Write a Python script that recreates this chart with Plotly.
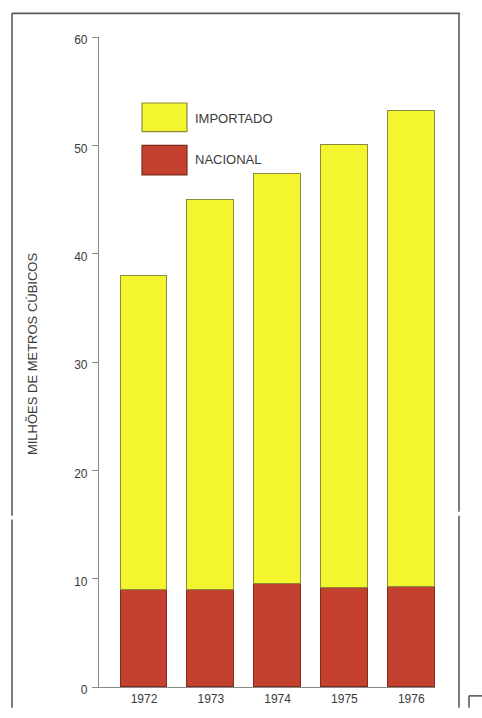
import plotly.graph_objects as go

# Consumo de madeira, milhões de metros cúbicos
years = [1972, 1973, 1974, 1975, 1976]
nacional = [9.0, 9.0, 9.5, 9.1, 9.2]
importado = [28.9, 36.0, 37.9, 40.9, 44.0]
y_ticks = [0, 10, 20, 30, 40, 50, 60]
series_names = ["IMPORTADO", "NACIONAL"]
y_title = "MILHÕES DE METROS CÚBICOS"

YELLOW = "#f3f52e"
RED = "#c5412f"
YELLOW_EDGE = "#8c8a3c"
RED_EDGE = "#7d2a1f"
INK = "#3a3a3a"
FRAME = "#5a5a5a"
FONT = "Liberation Sans, Arial, sans-serif"

W, H = 482, 718
ML, MR, MT, MB = 99, 47, 37, 21
PW, PH = W - ML - MR, H - MT - MB


def px(x):
    return (x - ML) / PW


def py(y):
    return (H - MB - y) / PH


fig = go.Figure()
fig.add_bar(
    x=years, y=nacional, name=series_names[1], width=0.70,
    marker=dict(color=RED, line=dict(color=RED_EDGE, width=1)),
)
fig.add_bar(
    x=years, y=importado, name=series_names[0], width=0.70,
    marker=dict(color=YELLOW, line=dict(color=YELLOW_EDGE, width=1)),
)

shapes = []


def line(x0, y0, x1, y1, color=FRAME, width=1.6):
    shapes.append(dict(type="line", xref="paper", yref="paper",
                       x0=px(x0), y0=py(y0), x1=px(x1), y1=py(y1),
                       line=dict(color=color, width=width)))


# outer frame of the figure panel
line(12, 13, 460, 13)
line(12, 13, 12, 523)
line(12, 527, 12, 718)
line(459, 13, 459, 519)
line(459, 523, 459, 718)
# corner of the next panel
line(469, 706, 482, 706)
line(469, 706, 469, 718)

# legend swatches
for (y0, y1, fill, edge) in [(104, 133, YELLOW, YELLOW_EDGE), (147, 177, RED, RED_EDGE)]:
    shapes.append(dict(type="rect", xref="paper", yref="paper",
                       x0=px(142), x1=px(187), y0=py(y1), y1=py(y0),
                       fillcolor=fill, line=dict(color=edge, width=1.2)))

annotations = [
    dict(xref="paper", yref="paper", x=px(193), y=py(120), text=series_names[0],
         showarrow=False, xanchor="left", yanchor="middle",
         font=dict(family=FONT, size=13, color=INK)),
    dict(xref="paper", yref="paper", x=px(193), y=py(161), text=series_names[1],
         showarrow=False, xanchor="left", yanchor="middle",
         font=dict(family=FONT, size=13, color=INK)),
    dict(xref="paper", yref="paper", x=px(32), y=py(359), text=y_title,
         showarrow=False, textangle=-90, xanchor="center", yanchor="middle",
         font=dict(family=FONT, size=13, color=INK)),
]

fig.update_layout(
    width=W, height=H,
    margin=dict(l=ML, r=MR, t=MT, b=MB, pad=0),
    paper_bgcolor="white", plot_bgcolor="white",
    barmode="stack", showlegend=False,
    font=dict(family=FONT, color=INK),
    shapes=shapes, annotations=annotations,
    bargap=0,
)
fig.update_xaxes(
    range=[1971.326, 1976.356], tickvals=years, ticktext=[str(y) for y in years],
    showline=True, linecolor="#8a8a8a", linewidth=1.2,
    ticks="", showgrid=False, zeroline=False,
    tickfont=dict(family=FONT, size=12, color=INK), fixedrange=True,
)
fig.update_yaxes(
    range=[0, 60], tickvals=y_ticks,
    showline=True, linecolor="#8a8a8a", linewidth=1.2,
    ticks="outside", ticklen=6, tickcolor="#8a8a8a", tickwidth=1,
    ticklabelstandoff=2, ticklabelshift=3,
    showgrid=False, zeroline=False,
    tickfont=dict(family=FONT, size=12, color=INK), fixedrange=True,
)

fig.write_html("out.html")
